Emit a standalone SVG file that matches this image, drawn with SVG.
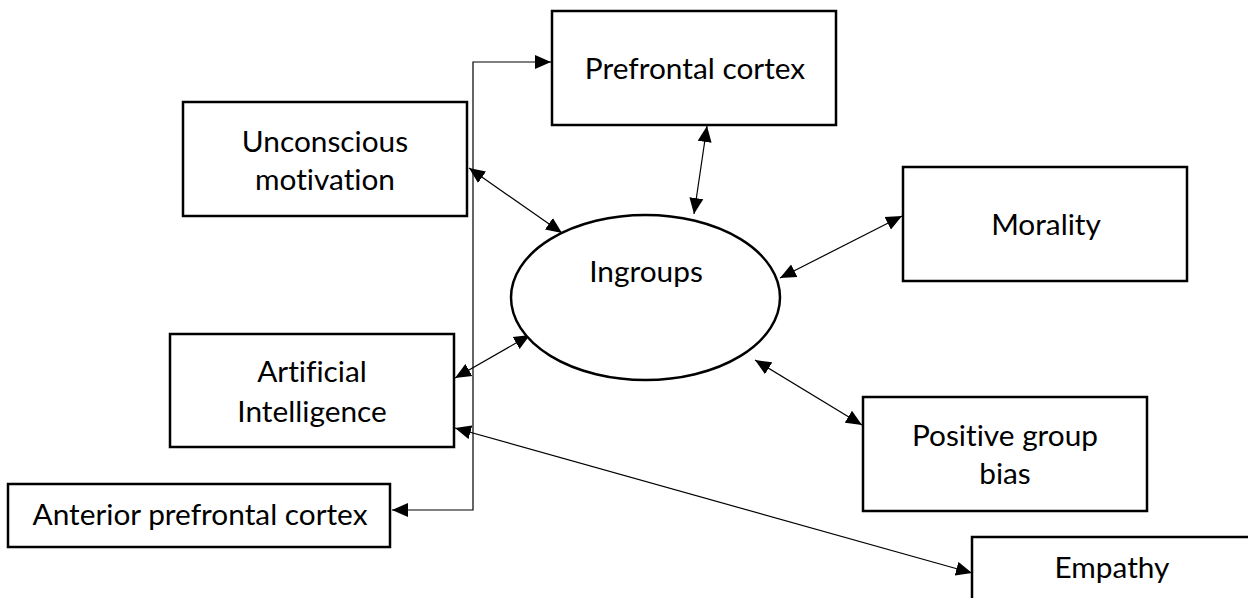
<svg xmlns="http://www.w3.org/2000/svg" width="1248" height="598" viewBox="0 0 1248 598">
<style>
.box{fill:#fff;stroke:#000;stroke-width:2.5}
.lbl{font-family:Lato,"Liberation Sans",sans-serif;font-size:29.8px;fill:#000;text-anchor:middle;font-variant-ligatures:none;font-feature-settings:"liga" 0,"clig" 0}
.con{fill:none;stroke:#000;stroke-width:1.2}
</style>
<defs>
<marker id="ah" markerUnits="userSpaceOnUse" markerWidth="17" markerHeight="15" refX="16" refY="7" orient="auto-start-reverse" viewBox="0 0 17 14">
<path d="M0,0 L16,7 L0,14 z" fill="#000"/>
</marker>
</defs>
<rect width="1248" height="598" fill="#fff"/>
<g id="connectors">
<polyline class="con" points="392,510 473,510 473,62 551,62" marker-start="url(#ah)" marker-end="url(#ah)"/>
<line class="con" x1="469" y1="168" x2="562" y2="233" marker-start="url(#ah)" marker-end="url(#ah)"/>
<line class="con" x1="707" y1="126" x2="694" y2="214" marker-start="url(#ah)" marker-end="url(#ah)"/>
<line class="con" x1="780" y1="278" x2="902" y2="216" marker-start="url(#ah)" marker-end="url(#ah)"/>
<line class="con" x1="455" y1="378" x2="530" y2="335" marker-start="url(#ah)" marker-end="url(#ah)"/>
<line class="con" x1="755" y1="360" x2="862" y2="425" marker-start="url(#ah)" marker-end="url(#ah)"/>
<line class="con" x1="455" y1="428" x2="972" y2="573" marker-start="url(#ah)" marker-end="url(#ah)"/>
</g>
<g id="prefrontal">
<rect class="box" x="552" y="11" width="284" height="114"/>
<text class="lbl" x="695" y="79">Prefrontal cortex</text>
</g>
<g id="unconscious">
<rect class="box" x="183" y="102" width="284" height="114"/>
<text class="lbl" x="325" y="152">Unconscious</text>
<text class="lbl" x="325" y="190">motivation</text>
</g>
<g id="ingroups">
<ellipse cx="645.5" cy="297.5" rx="134.5" ry="82.5" fill="#fff" stroke="#000" stroke-width="2.5"/>
<text class="lbl" x="646" y="282">Ingroups</text>
</g>
<g id="morality">
<rect class="box" x="903" y="167" width="284" height="114"/>
<text class="lbl" x="1046" y="235">Morality</text>
</g>
<g id="ai">
<rect class="box" x="170" y="334" width="284" height="113"/>
<text class="lbl" x="312" y="382">Artificial</text>
<text class="lbl" x="312" y="422">Intelligence</text>
</g>
<g id="positive">
<rect class="box" x="863" y="397" width="284" height="114"/>
<text class="lbl" x="1005" y="446">Positive group</text>
<text class="lbl" x="1005" y="484">bias</text>
</g>
<g id="anterior">
<rect class="box" x="8" y="484" width="382" height="63"/>
<text class="lbl" x="200" y="525">Anterior prefrontal cortex</text>
</g>
<g id="empathy">
<rect class="box" x="972" y="537" width="340" height="120"/>
<text class="lbl" x="1112" y="578">Empathy</text>
</g>
</svg>
